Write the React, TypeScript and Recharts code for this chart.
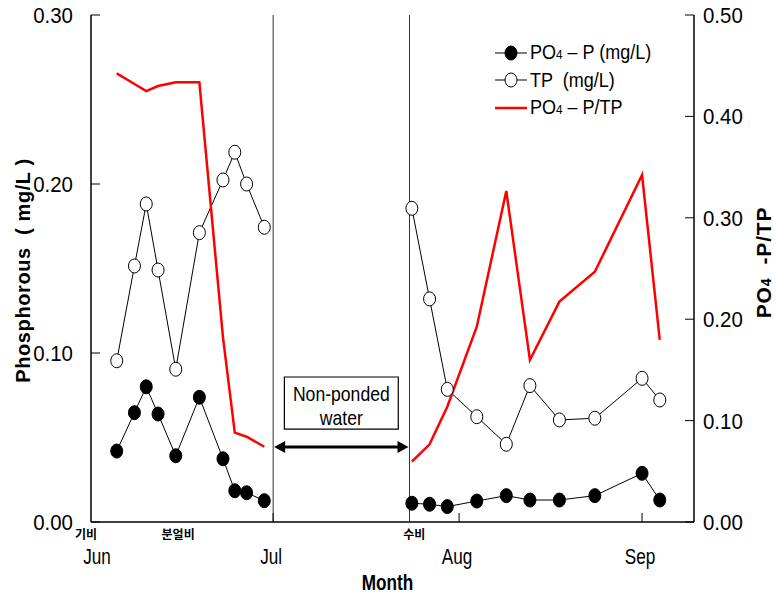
import React from 'react';
import {
  ComposedChart,
  Line,
  XAxis,
  YAxis,
  ReferenceLine,
  ReferenceArea,
  ReferenceDot,
  Legend,
} from 'recharts';

// Sampling days, counted from 1 June (0 = Jun 1)
const sampleDays = [3, 6, 8, 10, 13, 17, 21, 23, 25, 28, 53, 56, 59, 64, 69, 73, 78, 84, 92, 95];
// PO4-P (mg/L)
const po4Values = [
  0.042, 0.0647, 0.08, 0.0639, 0.0392, 0.0738, 0.0374, 0.0185, 0.0173, 0.0126,
  0.0111, 0.0105, 0.0091, 0.0124, 0.0156, 0.013, 0.013, 0.0156, 0.0288, 0.013,
];
// TP (mg/L)
const tpValues = [
  0.0954, 0.1515, 0.1882, 0.1491, 0.0904, 0.1712, 0.2024, 0.2188, 0.2, 0.1744,
  0.1856, 0.132, 0.0785, 0.0623, 0.046, 0.0807, 0.0604, 0.0614, 0.085, 0.0722,
];
// PO4-P / TP ratio
const ratioValues = [
  0.4425, 0.432, 0.425, 0.43, 0.4336, 0.4336, 0.182, 0.0881, 0.0841, 0.0742,
  0.0595, 0.0766, 0.1137, 0.1926, 0.3264, 0.1598, 0.2173, 0.2468, 0.3422, 0.1795,
];
const breakDay = 40; // non-ponded period: lines are interrupted

const monthTicks = [0, 29.5, 61, 92];
const monthLabels = ['Jun', 'Jul', 'Aug', 'Sep'];
const fertDays = [-2.2, 13.4, 53.4];
const fertLabels = ['기비', '분얼비', '수비'];
const leftTicks = [0, 0.1, 0.2, 0.3];
const rightTicks = [0, 0.1, 0.2, 0.3, 0.4, 0.5];
const dividerDays = [29.5, 52.6];
const boxDays = [31.4, 50.7];
const boxRange = [0.055, 0.0858];
const arrowLevel = 0.0444;
const xDomain = [-1.36, 100.8];

const rows: any[] = [];
sampleDays.forEach((d, i) => {
  if (i === 10) rows.push({ day: breakDay, po4: null, tp: null, ratio: null });
  rows.push({ day: d, po4: po4Values[i], tp: tpValues[i], ratio: ratioValues[i] });
});

const NARROW = '"Liberation Sans Narrow", "Liberation Sans", Arial, sans-serif';
const BOLD = '"Liberation Sans", Arial, sans-serif';

const LeftTick = (p: any) => {
  const { x, y, payload } = p;
  return (
    <g>
      <line x1={x + 18} x2={x + 27} y1={y} y2={y} stroke="#000" strokeWidth={1} />
      <text x={0} y={0} dy="0.36em" textAnchor="end" fontFamily={NARROW} fontSize={22} fill="#000" transform={`translate(${x}, ${y}) scale(0.93, 1)`}>
        {Number(payload.value).toFixed(2)}
      </text>
    </g>
  );
};

const RightTick = (p: any) => {
  const { x, y, payload } = p;
  return (
    <g>
      <line x1={x - 9} x2={x - 18} y1={y} y2={y} stroke="#000" strokeWidth={1} />
      <text x={0} y={0} dy="0.36em" textAnchor="start" fontFamily={NARROW} fontSize={22} fill="#000" transform={`translate(${x}, ${y}) scale(0.93, 1)`}>
        {Number(payload.value).toFixed(2)}
      </text>
    </g>
  );
};

const MonthTick = (p: any) => {
  const { x, y, payload } = p;
  const i = monthTicks.indexOf(payload.value);
  return (
    <g>
      {i > 0 && <line x1={x} x2={x} y1={y} y2={y - 9} stroke="#000" strokeWidth={1} />}
      <text x={0} y={0} textAnchor="middle" fontFamily={NARROW} fontSize={22} fill="#000" transform={`translate(${x - 2}, ${y + 42}) scale(0.78, 1)`}>
        {monthLabels[i]}
      </text>
    </g>
  );
};

const MonthLabel = (p: any) => {
  const vb = p.viewBox;
  const cx = vb.x + vb.width / 2 - 5;
  const cy = vb.y + 68;
  return (
    <text x={0} y={0} textAnchor="middle" fontFamily={BOLD} fontWeight="bold" fontSize={22} fill="#000" transform={`translate(${cx}, ${cy}) scale(0.78, 1)`}>
      Month
    </text>
  );
};

const LeftTitle = (p: any) => {
  const vb = p.viewBox;
  const cx = 30;
  const cy = vb.y + vb.height / 2 + 2;
  return (
    <text x={cx} y={cy} transform={`rotate(-90, ${cx}, ${cy})`} textAnchor="middle" fontFamily={BOLD} fontWeight="bold" fontSize={20} letterSpacing={0.6} fill="#000" style={{ whiteSpace: 'pre' }}>
      {'Phosphorous  ( mg/L )'}
    </text>
  );
};

const RightTitle = (p: any) => {
  const vb = p.viewBox;
  const cx = 771;
  const cy = vb.y + vb.height / 2 - 6;
  return (
    <text x={cx} y={cy} transform={`rotate(-90, ${cx}, ${cy})`} textAnchor="middle" fontFamily={BOLD} fontWeight="bold" fontSize={21} letterSpacing={0.8} fill="#000" style={{ whiteSpace: 'pre' }}>
      <tspan>PO</tspan>
      <tspan fontSize={14}>4</tspan>
      <tspan>{'  -P/TP'}</tspan>
    </text>
  );
};

const FertLabel = (text: string) => (p: any) => {
  const vb = p.viewBox;
  return (
    <text x={vb.x + vb.width / 2} y={vb.y + 18} textAnchor="middle" fontFamily='"Noto Sans CJK KR", sans-serif' fontWeight="bold" fontSize={12} fill="#000">
      {text}
    </text>
  );
};

const BoxLabel = (p: any) => {
  const vb = p.viewBox;
  const cx = vb.x + vb.width / 2;
  return (
    <g>
      <text x={0} y={0} textAnchor="middle" fontFamily={NARROW} fontSize={20} fill="#000" transform={`translate(${cx}, ${vb.y + 24}) scale(0.88, 1)`}>
        Non-ponded
      </text>
      <text x={0} y={0} textAnchor="middle" fontFamily={NARROW} fontSize={20} fill="#000" transform={`translate(${cx}, ${vb.y + 48}) scale(0.88, 1)`}>
        water
      </text>
    </g>
  );
};

const ArrowShape = (p: any) => {
  const { x1, y1, x2, y2 } = p;
  const h = 12;
  const w = 6;
  const xa = Math.min(x1, x2);
  const xb = Math.max(x1, x2);
  const y = (y1 + y2) / 2;
  return (
    <g>
      <line x1={xa + h - 1} x2={xb - h + 1} y1={y} y2={y} stroke="#000" strokeWidth={3} />
      <polygon points={`${xa + 1},${y} ${xa + h},${y - w} ${xa + h},${y + w}`} fill="#000" />
      <polygon points={`${xb - 1},${y} ${xb - h},${y - w} ${xb - h},${y + w}`} fill="#000" />
    </g>
  );
};

const filledDot = (p: any) =>
  p.value == null || p.cy == null ? (
    <g key={p.key} />
  ) : (
    <ellipse key={p.key} cx={p.cx} cy={p.cy} rx={6} ry={7} fill="#000" stroke="#000" strokeWidth={1} />
  );

const openDot = (p: any) =>
  p.value == null || p.cy == null ? (
    <g key={p.key} />
  ) : (
    <ellipse key={p.key} cx={p.cx} cy={p.cy} rx={6} ry={7} fill="#fff" stroke="#000" strokeWidth={1} />
  );

const legendItems = [
  { kind: 'filled', parts: ['PO', '4', ' – P (mg/L)'] },
  { kind: 'open', parts: ['TP', '', '  (mg/L)'] },
  { kind: 'red', parts: ['PO', '4', ' – P/TP'] },
];

const LegendContent = () => (
  <div style={{ fontFamily: NARROW, fontSize: 20, color: '#000' }}>
    {legendItems.map((it) => (
      <div key={it.kind} style={{ display: 'flex', alignItems: 'center', height: 27.5, whiteSpace: 'pre' }}>
        <svg width={36} height={16} style={{ display: 'block' }}>
          {it.kind === 'red' ? (
            <line x1={1} x2={33} y1={8} y2={8} stroke="#ff0000" strokeWidth={2.5} />
          ) : (
            <g>
              <line x1={1} x2={33} y1={8} y2={8} stroke="#000" strokeWidth={1} />
              <ellipse cx={17} cy={8} rx={6} ry={7} fill={it.kind === 'filled' ? '#000' : '#fff'} stroke="#000" />
            </g>
          )}
        </svg>
        <span style={{ display: 'inline-block', transform: 'scaleX(0.9)', transformOrigin: 'left center' }}>
          {it.parts[0]}
          {it.parts[1] && <span style={{ fontSize: 13 }}>{it.parts[1]}</span>}
          {it.parts[2]}
        </span>
      </div>
    ))}
  </div>
);

export default function App() {
  return (
    <div style={{ position: 'absolute', left: 0, top: 0, width: 777, height: 596, background: '#fff' }}>
      <ComposedChart width={777} height={596} data={rows} margin={{ top: 15, right: 0, bottom: 0, left: 0 }}>
        <XAxis
          dataKey="day"
          type="number"
          domain={xDomain}
          allowDataOverflow
          ticks={monthTicks}
          interval={0}
          tick={<MonthTick />}
          tickLine={false}
          tickSize={0}
          tickMargin={0}
          height={74}
          axisLine={{ stroke: '#000', strokeWidth: 1.5 }}
          label={{ content: MonthLabel }}
        />
        <XAxis
          xAxisId="top"
          orientation="top"
          dataKey="day"
          type="number"
          domain={xDomain}
          allowDataOverflow
          tick={false}
          tickLine={false}
          height={0}
          axisLine={{ stroke: '#000', strokeWidth: 1.5 }}
        />
        <YAxis
          yAxisId="left"
          orientation="left"
          width={91}
          domain={[0, 0.3]}
          ticks={leftTicks}
          interval={0}
          tick={<LeftTick />}
          tickLine={false}
          tickSize={0}
          tickMargin={18}
          axisLine={{ stroke: '#000', strokeWidth: 1.5 }}
          label={{ content: LeftTitle }}
        />
        <YAxis
          yAxisId="right"
          orientation="right"
          width={83}
          domain={[0, 0.5]}
          ticks={rightTicks}
          interval={0}
          tick={<RightTick />}
          tickLine={false}
          tickSize={0}
          tickMargin={9}
          axisLine={{ stroke: '#000', strokeWidth: 1.5 }}
          label={{ content: RightTitle }}
        />
        {dividerDays.map((d) => (
          <ReferenceLine key={d} yAxisId="left" x={d} stroke="#333" strokeWidth={1} />
        ))}
        <ReferenceArea
          yAxisId="left"
          x1={boxDays[0]}
          x2={boxDays[1]}
          y1={boxRange[0]}
          y2={boxRange[1]}
          fill="#fff"
          fillOpacity={1}
          stroke="#000"
          strokeWidth={1.2}
          label={{ content: BoxLabel }}
        />
        <ReferenceLine
          yAxisId="left"
          segment={[
            { x: dividerDays[0], y: arrowLevel },
            { x: dividerDays[1], y: arrowLevel },
          ]}
          shape={ArrowShape}
        />
        {fertDays.map((d, i) => (
          <ReferenceDot
            key={d}
            yAxisId="left"
            x={d}
            y={0}
            r={1}
            fill="none"
            stroke="none"
            ifOverflow="visible"
            label={{ content: FertLabel(fertLabels[i]) }}
          />
        ))}
        <Line
          yAxisId="left"
          dataKey="po4"
          stroke="#000"
          strokeWidth={1}
          dot={filledDot}
          activeDot={false}
          connectNulls={false}
          isAnimationActive={false}
          legendType="none"
        />
        <Line
          yAxisId="left"
          dataKey="tp"
          stroke="#000"
          strokeWidth={1}
          dot={openDot}
          activeDot={false}
          connectNulls={false}
          isAnimationActive={false}
          legendType="none"
        />
        <Line
          yAxisId="right"
          dataKey="ratio"
          stroke="#ff0000"
          strokeWidth={2.5}
          dot={false}
          activeDot={false}
          connectNulls={false}
          isAnimationActive={false}
          legendType="none"
        />
        <Legend
          layout="vertical"
          align="center"
          verticalAlign="middle"
          content={LegendContent}
          wrapperStyle={{ left: 494, top: 39, width: 200 }}
        />
      </ComposedChart>
    </div>
  );
}
